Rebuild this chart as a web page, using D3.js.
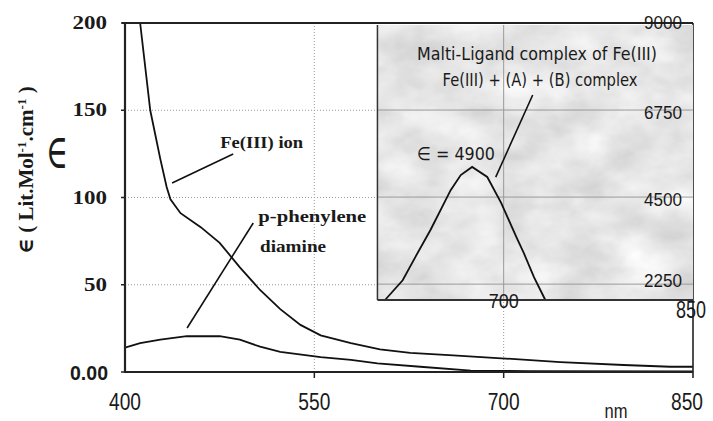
<!DOCTYPE html>
<html>
<head>
<meta charset="utf-8">
<script src="https://cdn.jsdelivr.net/npm/d3@7"></script>
<style>
body { margin: 0; background: #fff; }
</style>
</head>
<body>
<svg id="chart" width="713" height="421"></svg>
<script>
// main plot data: wavelength (nm) vs epsilon
var feWave = [412, 420, 428, 433, 436, 444, 460, 475, 491, 507, 523, 539, 555, 579, 602, 626, 660, 695, 745, 795, 832, 850];
var feEps  = [200, 150, 122, 106, 99, 91, 83, 74, 60, 47, 36, 27, 21, 16.5, 13, 11, 9.5, 8, 5.7, 4, 3, 3];

var ppdWave = [400, 412, 428, 449, 475, 491, 507, 523, 555, 579, 600, 634, 674, 720, 850];
var ppdEps  = [14, 16.5, 18.5, 20.5, 20.5, 18.5, 14.5, 11.5, 8.5, 7, 5, 3, 0.8, 0.5, 0.3];

// inset: the mixed-ligand complex band
var cxWave = [606, 620, 630, 642, 654, 658, 666, 675, 687, 698, 710, 716, 724, 733];
var cxEps  = [1840, 2350, 2950, 3650, 4420, 4680, 5070, 5280, 5020, 4350, 3470, 3050, 2430, 1840];

var xTicks = [400, 550, 700, 850];
var yTicks = [0, 50, 100, 150, 200];
var yTickLabels = ['0.00', '50', '100', '150', '200'];
var insetTicks = [2250, 4500, 6750, 9000];

var svg = d3.select('#chart');

var xScale = d3.scaleLinear().domain([400, 850]).range([125, 693]);
var yScale = d3.scaleLinear().domain([0, 200]).range([372, 23]);
// inset shares x positions with the main plot, own y scale
var yInset = d3.scaleLinear().domain([1840, 9000]).range([300, 23]);

var serif = '"Liberation Serif", "DejaVu Serif", serif';
var narrow = '"Liberation Sans", "DejaVu Sans", sans-serif';
var ink = '#1a1a1a';

var line = d3.line()
    .x(function(d) { return xScale(d[0]); })
    .y(function(d) { return yScale(d[1]); });

// texture for the inset background
var defs = svg.append('defs');
var filt = defs.append('filter').attr('id', 'mottle')
    .attr('x', 0).attr('y', 0).attr('width', 1).attr('height', 1);
filt.append('feTurbulence').attr('type', 'fractalNoise')
    .attr('baseFrequency', '0.018 0.028').attr('numOctaves', 4).attr('seed', 7)
    .attr('result', 'n');
filt.append('feColorMatrix').attr('type', 'matrix')
    .attr('values', '0.33 0.33 0.33 0 0  0.33 0.33 0.33 0 0  0.33 0.33 0.33 0 0  0 0 0 0 1');
filt.append('feComponentTransfer').call(function(g) {
    ['feFuncR', 'feFuncG', 'feFuncB'].forEach(function(f) {
        g.append(f).attr('type', 'linear').attr('slope', 0.75).attr('intercept', 0.42);
    });
});

// gridlines (dotted) of the main plot
var grid = svg.append('g').attr('stroke', '#9a9a9a').attr('stroke-width', 1)
    .attr('stroke-dasharray', '1,2');
[50, 100, 150].forEach(function(v) {
    grid.append('line')
        .attr('x1', xScale(400)).attr('x2', xScale(850))
        .attr('y1', yScale(v)).attr('y2', yScale(v));
});
[550, 700].forEach(function(v) {
    grid.append('line')
        .attr('x1', xScale(v)).attr('x2', xScale(v))
        .attr('y1', yScale(200)).attr('y2', yScale(0));
});

// curves
svg.append('path')
    .datum(d3.zip(feWave, feEps))
    .attr('fill', 'none').attr('stroke', '#111').attr('stroke-width', 1.8)
    .attr('d', line);
svg.append('path')
    .datum(d3.zip(ppdWave, ppdEps))
    .attr('fill', 'none').attr('stroke', '#111').attr('stroke-width', 1.8)
    .attr('d', line);

// frame
var frame = svg.append('g').attr('stroke', '#222');
frame.append('line').attr('stroke-width', 2.2)
    .attr('x1', xScale(400)).attr('x2', xScale(400))
    .attr('y1', yScale(200)).attr('y2', yScale(0) + 1);
frame.append('line').attr('stroke-width', 2.2)
    .attr('x1', xScale(400) - 1).attr('x2', xScale(850))
    .attr('y1', yScale(0)).attr('y2', yScale(0));
frame.append('line').attr('stroke-width', 2.2)
    .attr('x1', xScale(400) - 3).attr('x2', xScale(850))
    .attr('y1', yScale(200)).attr('y2', yScale(200));
frame.append('line').attr('stroke-width', 1.6)
    .attr('x1', xScale(850)).attr('x2', xScale(850))
    .attr('y1', yScale(200)).attr('y2', yScale(0) + 6);

// ticks
yTicks.forEach(function(v) {
    frame.append('line').attr('stroke-width', 1.5)
        .attr('x1', xScale(400) - 4).attr('x2', xScale(400))
        .attr('y1', yScale(v)).attr('y2', yScale(v));
});
[550, 700].forEach(function(v) {
    frame.append('line').attr('stroke-width', 1.5)
        .attr('x1', xScale(v)).attr('x2', xScale(v))
        .attr('y1', yScale(0)).attr('y2', yScale(0) + 6);
});

// y tick labels
svg.append('g').selectAll('text')
    .data(yTicks)
    .enter().append('text')
    .attr('x', function(d) { return d == 0 ? 108 : 107; })
    .attr('y', function(d) { return yScale(d) + (d == 0 ? 8 : 6); })
    .attr('text-anchor', 'end')
    .attr('font-family', function(d) { return d == 0 ? narrow : serif; })
    .attr('font-weight', 'bold')
    .attr('font-size', function(d) { return d == 0 ? 21 : 18; })
    .attr('textLength', function(d, i) { return d == 0 ? 38 : yTickLabels[i].length * 11.5; })
    .attr('lengthAdjust', 'spacingAndGlyphs')
    .attr('fill', ink)
    .text(function(d, i) { return yTickLabels[i]; });

// x tick labels (the last one sits a little inside the right edge)
svg.append('g').selectAll('text')
    .data(xTicks)
    .enter().append('text')
    .attr('x', function(d) { return xScale(d) - (d == 850 ? 6 : 0); })
    .attr('y', 410)
    .attr('text-anchor', 'middle')
    .attr('font-family', narrow)
    .attr('font-size', 24)
    .attr('textLength', 32).attr('lengthAdjust', 'spacingAndGlyphs')
    .attr('fill', ink)
    .text(function(d) { return d; });

svg.append('text')
    .attr('x', 616).attr('y', 418)
    .attr('text-anchor', 'middle')
    .attr('font-family', narrow).attr('font-size', 20).attr('fill', ink)
    .attr('textLength', 23).attr('lengthAdjust', 'spacingAndGlyphs')
    .text('nm');

// y axis title
var yt = svg.append('text')
    .attr('transform', 'translate(33,170) rotate(-90)')
    .attr('text-anchor', 'middle')
    .attr('font-family', serif).attr('font-weight', 'bold')
    .attr('font-size', 21).attr('fill', ink);
yt.append('tspan').text('\u2208 ( Lit.Mol');
yt.append('tspan').attr('baseline-shift', 'super').attr('font-size', 13).text('-1');
yt.append('tspan').text('.cm');
yt.append('tspan').attr('baseline-shift', 'super').attr('font-size', 13).text('-1');
yt.append('tspan').text(' )');

// the upright epsilon beside the title
svg.append('text')
    .attr('x', 57).attr('y', 168)
    .attr('text-anchor', 'middle')
    .attr('font-family', '"DejaVu Serif", serif')
    .attr('font-size', 48).attr('fill', ink)
    .attr('textLength', 22).attr('lengthAdjust', 'spacingAndGlyphs')
    .text('\u2208');

// ---- inset ----
var inset = svg.append('g');
inset.append('rect')
    .attr('x', xScale(600)).attr('y', yInset(9000) + 2)
    .attr('width', xScale(850) - xScale(600))
    .attr('height', yInset(1840) - yInset(9000) - 2)
    .attr('filter', 'url(#mottle)');

inset.selectAll('.igrid')
    .data(insetTicks.slice(0, 3))
    .enter().append('line')
    .attr('stroke', '#999').attr('stroke-width', 1)
    .attr('x1', xScale(600)).attr('x2', xScale(850))
    .attr('y1', function(d) { return yInset(d); })
    .attr('y2', function(d) { return yInset(d); });
inset.append('line')
    .attr('stroke', '#999').attr('stroke-width', 1)
    .attr('x1', xScale(700)).attr('x2', xScale(700))
    .attr('y1', yInset(9000) + 2).attr('y2', yInset(1840));

inset.append('path')
    .datum(d3.zip(cxWave, cxEps))
    .attr('fill', 'none').attr('stroke', '#111').attr('stroke-width', 1.8)
    .attr('d', d3.line()
        .x(function(d) { return xScale(d[0]); })
        .y(function(d) { return yInset(d[1]); }));

inset.append('line').attr('stroke', '#333').attr('stroke-width', 1.5)
    .attr('x1', xScale(600)).attr('x2', xScale(600))
    .attr('y1', yInset(9000) + 2).attr('y2', yInset(1840));
inset.append('line').attr('stroke', '#333').attr('stroke-width', 1.8)
    .attr('x1', xScale(600)).attr('x2', xScale(850))
    .attr('y1', yInset(1840)).attr('y2', yInset(1840));

inset.selectAll('.ilab')
    .data(insetTicks)
    .enter().append('text')
    .attr('x', 682)
    .attr('y', function(d) { return yInset(d) + (d == 9000 ? 6 : 9) - (d == 2250 ? 6 : 0); })
    .attr('text-anchor', 'end')
    .attr('font-family', narrow).attr('font-size', 18).attr('fill', ink)
    .attr('textLength', 38).attr('lengthAdjust', 'spacingAndGlyphs')
    .text(function(d) { return d; });

inset.append('text')
    .attr('x', xScale(700)).attr('y', 308)
    .attr('text-anchor', 'middle')
    .attr('font-family', narrow).attr('font-size', 21).attr('fill', ink)
    .attr('textLength', 30).attr('lengthAdjust', 'spacingAndGlyphs')
    .text('700');
inset.append('text')
    .attr('x', xScale(850) - 2).attr('y', 318)
    .attr('text-anchor', 'middle')
    .attr('font-family', narrow).attr('font-size', 24).attr('fill', ink)
    .attr('textLength', 30).attr('lengthAdjust', 'spacingAndGlyphs')
    .text('850');

var sans = '"DejaVu Sans", sans-serif';
inset.append('text')
    .attr('x', 537).attr('y', 60)
    .attr('text-anchor', 'middle')
    .attr('font-family', sans).attr('font-size', 17).attr('fill', ink)
    .attr('textLength', 240).attr('lengthAdjust', 'spacingAndGlyphs')
    .text('Malti-Ligand complex of Fe(III)');
inset.append('text')
    .attr('x', 540).attr('y', 86)
    .attr('text-anchor', 'middle')
    .attr('font-family', sans).attr('font-size', 17).attr('fill', ink)
    .attr('textLength', 195).attr('lengthAdjust', 'spacingAndGlyphs')
    .text('Fe(III) + (A) + (B) complex');
inset.append('text')
    .attr('x', 417).attr('y', 160)
    .attr('font-family', sans).attr('font-size', 18).attr('fill', ink)
    .attr('textLength', 78).attr('lengthAdjust', 'spacingAndGlyphs')
    .text('\u2208 = 4900');

// leader to inset curve
inset.append('line').attr('stroke', '#111').attr('stroke-width', 1.6)
    .attr('x1', xScale(693.7)).attr('y1', yInset(5018))
    .attr('x2', xScale(723)).attr('y2', yInset(7138));

// ---- annotations in main plot ----
var ann = svg.append('g').attr('stroke', '#111').attr('stroke-width', 1.6);
ann.append('line')
    .attr('x1', xScale(437.3)).attr('y1', yScale(108.3))
    .attr('x2', xScale(485.7)).attr('y2', yScale(124.9));
ann.append('line')
    .attr('x1', xScale(449.2)).attr('y1', yScale(25.2))
    .attr('x2', xScale(501.6)).attr('y2', yScale(85.4));

svg.append('text')
    .attr('x', xScale(475.4)).attr('y', yScale(128.4))
    .attr('font-family', serif).attr('font-weight', 'bold')
    .attr('font-size', 17).attr('fill', ink)
    .attr('textLength', 83).attr('lengthAdjust', 'spacingAndGlyphs')
    .text('Fe(III) ion');
svg.append('text')
    .attr('x', xScale(505.6)).attr('y', yScale(86))
    .attr('font-family', serif).attr('font-weight', 'bold')
    .attr('font-size', 17).attr('fill', ink)
    .attr('textLength', 108).attr('lengthAdjust', 'spacingAndGlyphs')
    .text('p-phenylene');
svg.append('text')
    .attr('x', xScale(507)).attr('y', yScale(68.8))
    .attr('font-family', serif).attr('font-weight', 'bold')
    .attr('font-size', 17).attr('fill', ink)
    .attr('textLength', 66).attr('lengthAdjust', 'spacingAndGlyphs')
    .text('diamine');
</script>
</body>
</html>
